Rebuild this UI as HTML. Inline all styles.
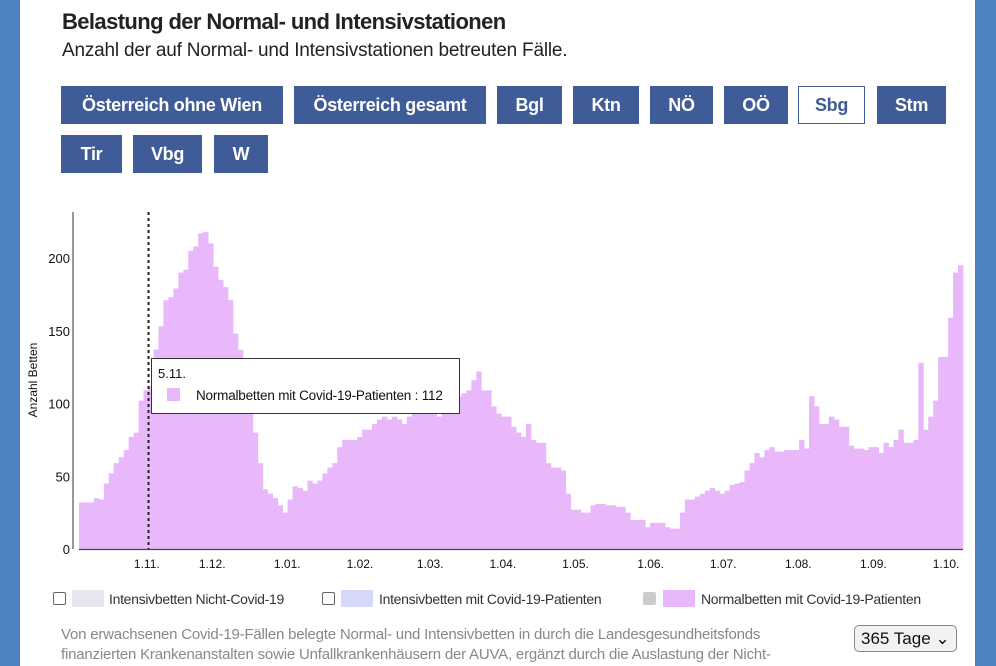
<!DOCTYPE html>
<html><head><meta charset="utf-8">
<style>
*{margin:0;padding:0;box-sizing:border-box}
body{width:996px;height:666px;overflow:hidden;background:#4f82c0;font-family:"Liberation Sans",sans-serif;}
#card{position:absolute;left:20px;top:0;width:955px;height:666px;background:#fff}
h1{position:absolute;left:62px;top:9px;font-size:22px;font-weight:bold;color:#222;letter-spacing:-0.6px}
.sub{position:absolute;left:62px;top:40px;font-size:19px;color:#222;letter-spacing:-0.2px}
.btn{position:absolute;height:38px;background:#3f5b98;color:#fff;font-weight:bold;font-size:18px;line-height:38px;text-align:center;letter-spacing:-0.3px}
.btn.sel{background:#fff;color:#3f5b98;border:1px solid #3f5b98;line-height:36px}
svg{position:absolute;left:0;top:0}
.cb{position:absolute;top:592px;width:13px;height:13px;border:1.5px solid #666;border-radius:2px}
.sw{position:absolute;top:590px;width:32px;height:17px}
.lt{position:absolute;top:590px;font-size:14px;color:#333;line-height:18px;letter-spacing:-0.3px;white-space:nowrap}
.foot{position:absolute;left:61px;top:625px;width:770px;font-size:15px;color:#888;line-height:20px;letter-spacing:-0.2px}
.sel365{position:absolute;left:854px;top:625px;width:103px;height:27px;border:1px solid #888;border-radius:5px;background:#f2f2f2;font-size:17px;line-height:25px;padding-left:6px;color:#111}
</style></head><body>
<div id="card"></div>
<h1>Belastung der Normal- und Intensivstationen</h1>
<div class="sub">Anzahl der auf Normal- und Intensivstationen betreuten Fälle.</div>
<div class="btn" style="left:61px;top:86px;width:222px">Österreich ohne Wien</div>
<div class="btn" style="left:294px;top:86px;width:192px">Österreich gesamt</div>
<div class="btn" style="left:497px;top:86px;width:65px">Bgl</div>
<div class="btn" style="left:573px;top:86px;width:66px">Ktn</div>
<div class="btn" style="left:650px;top:86px;width:63px">NÖ</div>
<div class="btn" style="left:724px;top:86px;width:64px">OÖ</div>
<div class="btn sel" style="left:798px;top:86px;width:67px">Sbg</div>
<div class="btn" style="left:877px;top:86px;width:69px">Stm</div>
<div class="btn" style="left:61px;top:135px;width:61px">Tir</div>
<div class="btn" style="left:133px;top:135px;width:69px">Vbg</div>
<div class="btn" style="left:214px;top:135px;width:54px">W</div>

<svg id="chart" width="996" height="666"></svg>

<div class="cb" style="left:53px"></div>
<div class="sw" style="left:72px;background:#e6e6ee"></div>
<div class="lt" style="left:109px">Intensivbetten Nicht-Covid-19</div>
<div class="cb" style="left:322px"></div>
<div class="sw" style="left:341px;background:#d6d8fb"></div>
<div class="lt" style="left:379px">Intensivbetten mit Covid-19-Patienten</div>
<div class="cb" style="left:643px;background:#ccc;border-color:#ccc"></div>
<div class="sw" style="left:663px;background:#e8b8fb"></div>
<div class="lt" style="left:701px">Normalbetten mit Covid-19-Patienten</div>

<div class="foot">Von erwachsenen Covid-19-Fällen belegte Normal- und Intensivbetten in durch die Landesgesundheitsfonds finanzierten Krankenanstalten sowie Unfallkrankenhäusern der AUVA, ergänzt durch die Auslastung der Nicht-</div>
<div class="sel365">365 Tage ⌄</div>

<script>
const values=[32,32,32,35,34,45,52,59,63,68,77,80,102,109,112,137,153,171,173,179,190,192,205,208,217,218,210,194,185,180,171,148,137,114,93,80,59,41,38,35,30,25,34,43,42,40,47,45,47,52,56,59,70,75,75,75,77,82,82,86,89,91,89,91,89,86,91,93,93,93,96,93,91,96,98,102,105,107,109,116,122,109,109,98,93,91,91,84,80,77,86,75,73,73,59,56,56,54,38,27,27,25,25,30,31,31,30,30,29,29,25,20,20,20,15,18,18,18,15,14,14,25,34,34,36,38,40,42,40,38,40,44,45,46,54,59,66,63,68,70,67,67,68,68,68,75,69,105,98,86,86,91,89,84,84,71,69,69,68,70,70,66,73,70,75,82,73,73,75,128,82,91,102,132,132,159,190,195];
const yTicks=[0,50,100,150,200];
const xTickLabels=["1.11.","1.12.","1.01.","1.02.","1.03.","1.04.","1.05.","1.06.","1.07.","1.08.","1.09.","1.10."];
const xTickDays=[28,55,86,116,145,175,205,236,266,297,328,358];
const totalDays=365;
const hoverIndex=14;
const hoverLabel="5.11.";

const NS="http://www.w3.org/2000/svg";
const svg=document.getElementById('chart');
const X0=79,X1=963,Y0=549,YPX=1.455;
const y=v=>Y0-v*YPX;
const xi=i=>X0+i*(X1-X0)/values.length;
const xd=d=>X0+d*(X1-X0)/totalDays;
function mk(t,a){const e=document.createElementNS(NS,t);for(const k in a)e.setAttribute(k,a[k]);svg.appendChild(e);return e;}
const bw=(X1-X0)/values.length;
values.forEach((v,i)=>{
  const r=mk('rect',{x:xi(i),y:y(v),width:bw+0.4,height:v*YPX,fill:'#e8b8fb'});
  
  
});
const ax=mk('line',{x1:73,y1:212,x2:73,y2:549,stroke:'#777','stroke-width':1.5});


const bx=mk('line',{x1:79,y1:549.5,x2:963,y2:549.5,stroke:'#444','stroke-width':1.3});


yTicks.forEach(t=>{
  const e=mk('text',{x:70,y:y(t)+5,'text-anchor':'end','font-size':13,fill:'#111','font-family':'Liberation Sans,sans-serif'});
  e.textContent=t;
  
  
});
xTickLabels.forEach((l,i)=>{
  const e=mk('text',{x:xd(xTickDays[i]),y:568,'text-anchor':'middle','font-size':12,fill:'#111','font-family':'Liberation Sans,sans-serif'});
  e.textContent=l;
  
  
});
const yt=mk('text',{x:0,y:0,transform:'translate(37,380) rotate(-90)','text-anchor':'middle','font-size':12,fill:'#111','font-family':'Liberation Sans,sans-serif'});
yt.textContent='Anzahl Betten';


const hx=xi(hoverIndex);
const hl=mk('line',{x1:hx,y1:212,x2:hx,y2:549,stroke:'#222','stroke-width':2,'stroke-dasharray':'3,3'});


const tb=mk('rect',{x:151.5,y:358.5,width:308,height:55,fill:'#fff',stroke:'#333','stroke-width':1});


const t1=mk('text',{x:158,y:378,'font-size':13,fill:'#111','font-family':'Liberation Sans,sans-serif'});
t1.textContent=hoverLabel;


const ts=mk('rect',{x:167,y:388,width:13,height:13,fill:'#e8b8fb'});


const t2=mk('text',{x:196,y:400,'font-size':13.5,fill:'#111','font-family':'Liberation Sans,sans-serif','letter-spacing':'-0.2'});
t2.textContent='Normalbetten mit Covid-19-Patienten : '+values[hoverIndex];


</script>
</body></html>
